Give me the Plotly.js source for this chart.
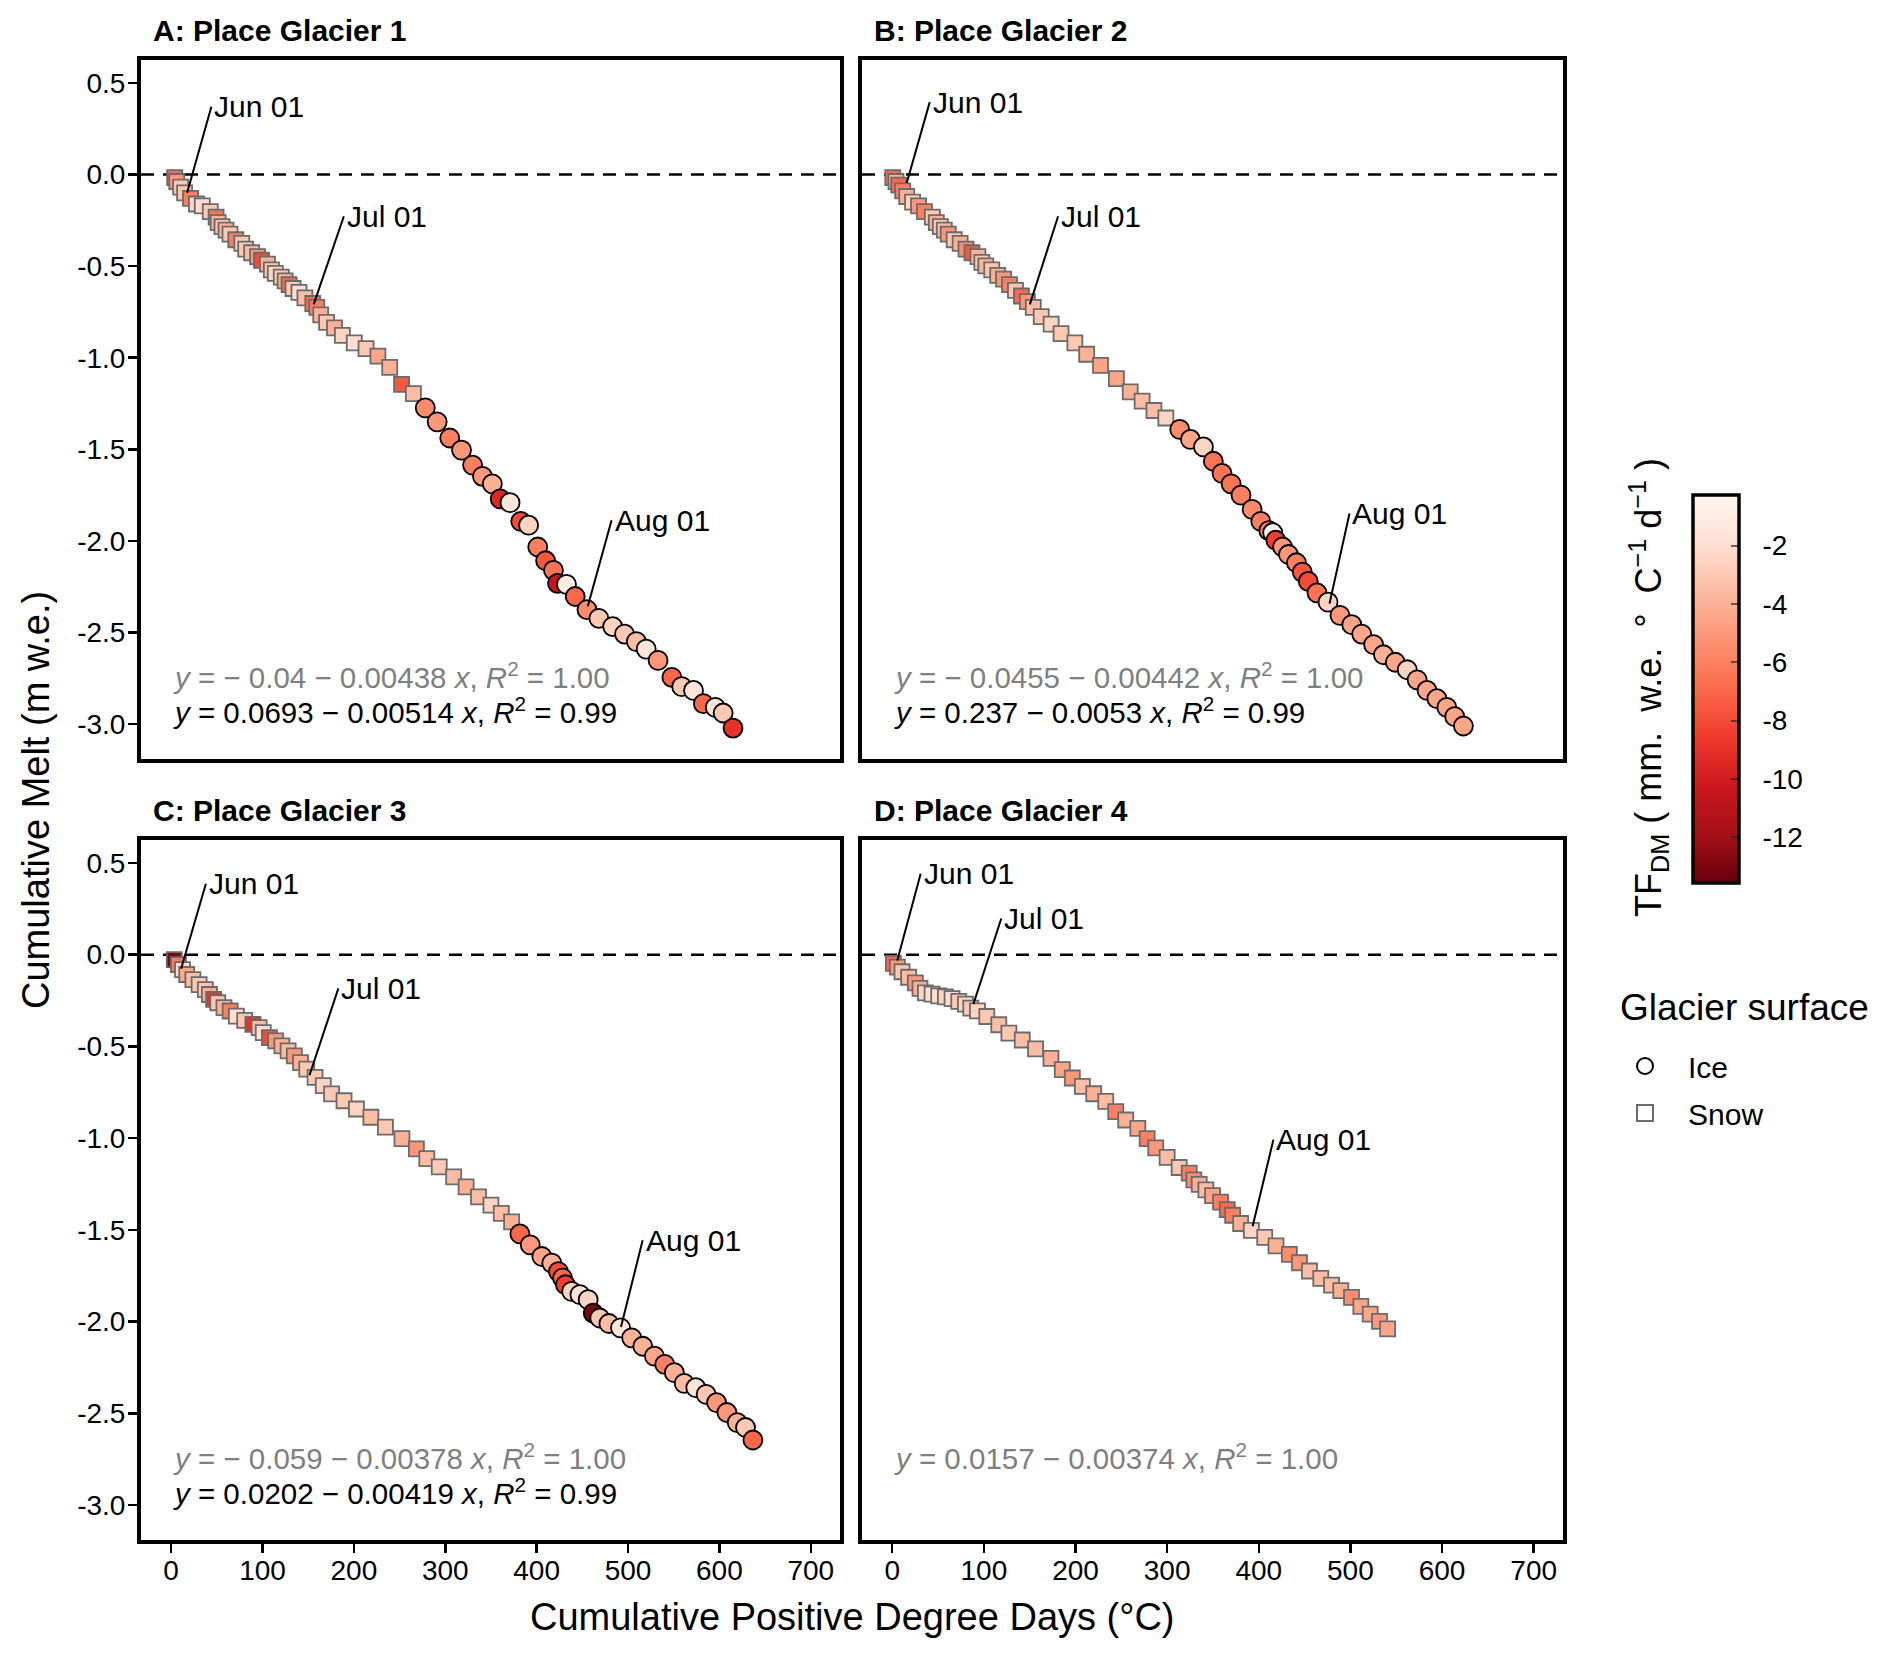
<!DOCTYPE html>
<html>
<head>
<meta charset="utf-8">
<script src="https://cdn.plot.ly/plotly-3.0.1.min.js"></script>
<style>
  body { margin: 0; background: white; }
  #chart { width: 1892px; height: 1657px; }
</style>
</head>
<body>
<div id="chart"></div>
<script>
// ---- data ----
// Panel A: Place Glacier 1
var pddA_snow = [3.9, 6.1, 10.4, 14.7, 21.2, 27.7, 34.1, 42.8, 49.2, 51.4, 55.7, 60.0, 64.4, 70.8, 77.3, 81.6, 88.1, 94.6, 98.9, 105.4,
                 109.7, 114.0, 120.5, 124.8, 129.1, 133.4, 139.9, 146.4, 155.0, 159.4, 163.7, 170.1, 178.8, 187.4, 200.4, 213.3, 226.3, 239.2, 252.2, 265.1];
var meltA_snow = [-0.017, -0.038, -0.069, -0.10, -0.13, -0.161, -0.171, -0.202, -0.233, -0.263, -0.284, -0.304, -0.325, -0.356, -0.376, -0.407, -0.427, -0.448, -0.468, -0.489,
                  -0.52, -0.54, -0.56, -0.581, -0.601, -0.622, -0.643, -0.673, -0.704, -0.725, -0.766, -0.807, -0.837, -0.878, -0.919, -0.95, -0.991, -1.053, -1.145, -1.196];
var tfA_snow = [-7, -5, -3, -3, -6, -2.5, -2, -3, -6.5, -4, -3, -4, -3, -6, -3, -3, -3.5, -5, -8, -4,
                -3, -2.5, -3, -4, -7, -3, -2, -3.5, -7, -6, -4, -3, -4, -2.5, -2, -3, -4.5, -4, -7.5, -3.5];
var pddA_ice = [278.1, 291.1, 304.9, 317.8, 329.9, 340.7, 351.5, 360.1, 370.9, 382.6, 391.2, 401.2, 409.8, 418.4, 422.8, 432.7,
                442.2, 455.1, 468.1, 483.2, 496.2, 509.1, 519.9, 532.9, 548.0, 558.8, 571.7, 582.5, 595.5, 604.1, 614.9];
var meltA_ice = [-1.274, -1.350, -1.438, -1.504, -1.586, -1.647, -1.688, -1.770, -1.791, -1.893, -1.914, -2.033, -2.108, -2.16, -2.231, -2.237,
                 -2.303, -2.375, -2.422, -2.467, -2.508, -2.549, -2.59, -2.652, -2.744, -2.795, -2.816, -2.888, -2.908, -2.939, -3.021];
var tfA_ice = [-5.5, -5, -6, -5, -6, -5, -4, -9.5, -1.5, -8, -2.5, -6, -7.5, -6.5, -10.5, -1,
               -7, -5.5, -3, -2.5, -3, -3.5, -1.5, -5, -7, -3, -1.5, -7, -1.5, -3, -9];

// Panel B: Place Glacier 2
var pddB_snow = [0.6, 4.1, 7.1, 11.4, 15.8, 22.2, 28.7, 35.2, 43.8, 48.1, 52.5, 56.8, 61.1, 67.6, 74.1, 80.5, 87.0, 93.5, 97.8, 102.1,
                 108.6, 115.1, 121.5, 128.0, 134.5, 141.0, 147.5, 153.9, 162.6, 173.4, 184.2, 199.3, 212.2, 227.3, 244.6, 259.7, 272.7, 285.6, 298.6];
var meltB_snow = [-0.017, -0.038, -0.058, -0.089, -0.12, -0.151, -0.171, -0.202, -0.233, -0.263, -0.284, -0.304, -0.325, -0.356, -0.376, -0.407, -0.427, -0.448, -0.479, -0.499,
                  -0.52, -0.55, -0.571, -0.601, -0.632, -0.663, -0.694, -0.725, -0.776, -0.817, -0.868, -0.919, -0.981, -1.042, -1.114, -1.186, -1.237, -1.288, -1.329];
var tfB_snow = [-7, -4, -7, -6, -4, -2.5, -5, -6, -3, -4, -3, -3.5, -5, -3, -4, -5.5, -7.5, -4, -3, -4,
                -3, -4, -5, -6, -3, -7, -5, -3.5, -3, -2.5, -3, -3, -4, -4.5, -4.5, -4, -3.5, -3.5, -2.5];
var pddB_ice = [313.7, 325.4, 339.6, 350.4, 359.9, 369.8, 380.6, 392.7, 402.2, 410.9, 415.2, 418.6, 426.0, 432.4, 441.1, 447.5,
                454.0, 463.5, 475.6, 488.6, 501.5, 512.3, 525.3, 536.1, 549.0, 562.0, 572.8, 583.6, 594.4, 605.2, 613.8, 623.3];
var meltB_ice = [-1.391, -1.446, -1.487, -1.565, -1.631, -1.688, -1.75, -1.828, -1.893, -1.944, -1.955, -1.996, -2.033, -2.074, -2.119, -2.17,
                 -2.221, -2.283, -2.334, -2.406, -2.457, -2.508, -2.566, -2.621, -2.662, -2.703, -2.758, -2.816, -2.861, -2.908, -2.959, -3.01];
var tfB_ice = [-5.5, -4.5, -2.5, -6.5, -6.5, -6.5, -6, -5.5, -6, -6, -0.5, -8.5, -5, -5, -6, -7.5,
               -8, -6.5, -2.5, -5, -4.5, -4.5, -4.5, -4, -4.5, -2.5, -4.5, -4.5, -4.5, -4.5, -4.5, -4.5];

// Panel C: Place Glacier 3
var pddC_snow = [3.4, 8.0, 12.5, 17.0, 23.8, 30.6, 37.4, 41.9, 46.5, 51.0, 57.8, 64.6, 71.4, 80.5, 89.5, 96.3, 100.8, 107.6, 114.4, 121.2,
                 128.0, 134.8, 141.6, 148.4, 157.5, 166.5, 175.6, 189.2, 202.8, 218.6, 234.5, 252.6, 268.4, 279.8, 293.4, 309.2, 322.8, 336.4, 350.0, 361.3, 372.6];
var meltC_snow = [-0.027, -0.054, -0.081, -0.108, -0.136, -0.163, -0.19, -0.217, -0.244, -0.262, -0.289, -0.307, -0.335, -0.358, -0.38, -0.398, -0.425, -0.452, -0.47, -0.497,
                  -0.524, -0.551, -0.588, -0.624, -0.669, -0.714, -0.759, -0.796, -0.841, -0.886, -0.94, -1.003, -1.058, -1.112, -1.157, -1.211, -1.266, -1.32, -1.365, -1.41, -1.456];
var tfC_snow = [-13, -6, -2, -4.5, -3.5, -3, -3, -4, -9, -3, -4, -6, -2, -3, -9, -3.5, -2, -8, -5, -4,
                -3.5, -5, -4, -3, -3, -2.5, -3, -3, -2.5, -3.5, -3, -4, -5, -3.5, -3, -3.5, -4, -3.5, -2.5, -3.5, -4];
var pddC_ice = [381.7, 393.0, 405.7, 416.6, 423.8, 428.4, 431.5, 438.3, 447.4, 456.4, 461.9, 469.1, 479.1, 491.8,
                504.0, 516.2, 528.9, 540.2, 550.7, 561.5, 574.2, 585.5, 596.9, 608.2, 619.5, 628.6, 636.7];
var meltC_ice = [-1.522, -1.582, -1.645, -1.681, -1.727, -1.763, -1.799, -1.835, -1.853, -1.88, -1.953, -1.98, -2.01, -2.034,
                 -2.088, -2.134, -2.188, -2.233, -2.278, -2.336, -2.36, -2.396, -2.441, -2.495, -2.55, -2.577, -2.645];
var tfC_ice = [-7, -5, -4.5, -4, -8, -7, -8.5, -2.5, -1.5, -2.5, -13, -3, -3.5, -1.5,
               -4, -4, -4.5, -6, -4, -3.5, -1.5, -3, -5, -5, -4, -3, -7];

// Panel D: Place Glacier 4 (snow only)
var pddD_snow = [1.2, 5.6, 10.7, 17.9, 25.2, 30.3, 36.2, 43.5, 50.7, 58.0, 65.3, 72.6, 79.9, 85.7, 93.0, 103.2, 116.3, 127.3, 141.9, 156.4,
                 173.2, 185.6, 196.5, 207.5, 219.9, 233.0, 243.9, 254.8, 268.0, 278.2, 287.6, 300.0, 313.1, 324.1, 329.2, 335.0, 342.3, 349.6, 358.3, 365.6,
                 371.5, 380.2, 391.9, 406.5, 418.8, 433.4, 444.4, 455.3, 467.7, 479.4, 489.5, 501.2, 511.4, 521.6, 531.8, 540.6];
var meltD_snow = [-0.047, -0.068, -0.093, -0.123, -0.154, -0.184, -0.208, -0.215, -0.224, -0.23, -0.239, -0.254, -0.27, -0.291, -0.306, -0.337, -0.382, -0.428, -0.465, -0.513,
                  -0.565, -0.626, -0.672, -0.718, -0.758, -0.8, -0.855, -0.901, -0.947, -1.002, -1.053, -1.105, -1.16, -1.191, -1.227, -1.252, -1.282, -1.313, -1.349, -1.389,
                  -1.42, -1.465, -1.502, -1.541, -1.587, -1.633, -1.679, -1.724, -1.764, -1.801, -1.831, -1.868, -1.917, -1.959, -1.999, -2.039];
var tfD_snow = [-7, -5, -3, -3.5, -5, -4, -2.5, -2, -2, -2.5, -2, -3, -2.5, -3, -2.5, -3, -3.5, -3, -3.5, -3.5,
                -4, -4.5, -5, -3.5, -4, -3.5, -6, -4, -4.5, -6, -5, -3.5, -3, -6, -5.5, -4, -3.5, -4.5, -6, -7,
                -6, -4, -2.5, -3, -4, -5.5, -5, -3.5, -3.5, -3.5, -4, -5.5, -4.5, -4.5, -5, -4.5];

// date labels: the point each label marks, and where its text sits
var dateLabels = ['Jun 01', 'Jul 01', 'Aug 01'];
var datePtA_x = [17.5, 156, 456],   datePtA_y = [-0.10, -0.709, -2.356];
var dateLblA_x = [44, 189, 482],    dateLblA_y = [0.37, -0.228, -1.887];
var datePtB_x = [15.8, 150.2, 477.2], datePtB_y = [-0.046, -0.709, -2.342];
var dateLblB_x = [40.9, 181, 499],  dateLblB_y = [0.395, -0.228, -1.85];
var datePtC_x = [10.9, 151.4, 492.3], datePtC_y = [-0.077, -0.657, -2.029];
var dateLblC_x = [38, 183, 516],    dateLblC_y = [0.387, -0.184, -1.556];
var datePtD_x = [5.5, 88.6, 393.3], datePtD_y = [-0.032, -0.269, -1.48];
var dateLblD_x = [31, 119, 416],    dateLblD_y = [0.441, 0.197, -1.008];

// regression equations (grey = first fit, black = second fit)
var eqGrey = ['<i>y</i> = − 0.04 − 0.00438 <i>x</i>, <i>R</i><sup>2</sup> = 1.00',
              '<i>y</i> = − 0.0455 − 0.00442 <i>x</i>, <i>R</i><sup>2</sup> = 1.00',
              '<i>y</i> = − 0.059 − 0.00378 <i>x</i>, <i>R</i><sup>2</sup> = 1.00',
              '<i>y</i> = 0.0157 − 0.00374 <i>x</i>, <i>R</i><sup>2</sup> = 1.00'];
var eqBlack = ['<i>y</i> = 0.0693 − 0.00514 <i>x</i>, <i>R</i><sup>2</sup> = 0.99',
               '<i>y</i> = 0.237 − 0.0053 <i>x</i>, <i>R</i><sup>2</sup> = 0.99',
               '<i>y</i> = 0.0202 − 0.00419 <i>x</i>, <i>R</i><sup>2</sup> = 0.99',
               ''];
var panelTitles = ['A: Place Glacier 1', 'B: Place Glacier 2', 'C: Place Glacier 3', 'D: Place Glacier 4'];

var yTicks = [0.5, 0, -0.5, -1, -1.5, -2, -2.5, -3];
var yTickText = ['0.5', '0.0', '-0.5', '-1.0', '-1.5', '-2.0', '-2.5', '-3.0'];
var xTicks = [0, 100, 200, 300, 400, 500, 600, 700];
var cbTicks = [-2, -4, -6, -8, -10, -12];
var cbTickText = ['-2', '-4', '-6', '-8', '-10', '-12'];
var tfMin = -13.56, tfMax = -0.27;

// ---- layout helpers ----
var W = 1892, H = 1657;
var FONT = 'Liberation Sans, Arial, Helvetica, sans-serif';
function fx(px) { return px / W; }
function fy(py) { return 1 - py / H; }

var reds = [[0, '#67000d'], [0.125, '#a50f15'], [0.25, '#cb181d'], [0.375, '#ef3b2c'], [0.5, '#fb6a4a'],
            [0.625, '#fc9272'], [0.75, '#fcbba1'], [0.875, '#fee0d2'], [1, '#fff5f0']];

// colour bar box in pixels
var cbLeft = 1693, cbRight = 1739, cbTop = 495, cbBottom = 883;

var panels = [
    {sx: pddA_snow, sy: meltA_snow, sc: tfA_snow, ix: pddA_ice, iy: meltA_ice, ic: tfA_ice,
     px: datePtA_x, py: datePtA_y, lx: dateLblA_x, ly: dateLblA_y, xd: [141, 840], yd: [60, 759]},
    {sx: pddB_snow, sy: meltB_snow, sc: tfB_snow, ix: pddB_ice, iy: meltB_ice, ic: tfB_ice,
     px: datePtB_x, py: datePtB_y, lx: dateLblB_x, ly: dateLblB_y, xd: [862, 1563], yd: [60, 759]},
    {sx: pddC_snow, sy: meltC_snow, sc: tfC_snow, ix: pddC_ice, iy: meltC_ice, ic: tfC_ice,
     px: datePtC_x, py: datePtC_y, lx: dateLblC_x, ly: dateLblC_y, xd: [141, 840], yd: [840, 1540]},
    {sx: pddD_snow, sy: meltD_snow, sc: tfD_snow, ix: [], iy: [], ic: [],
     px: datePtD_x, py: datePtD_y, lx: dateLblD_x, ly: dateLblD_y, xd: [862, 1563], yd: [840, 1540]}
];

var data = [];
var shapes = [];
var annotations = [];
var layout = {
    width: W,
    height: H,
    margin: {l: 0, r: 0, t: 0, b: 0},
    paper_bgcolor: 'white',
    plot_bgcolor: 'white',
    font: {family: FONT, color: 'black'},
    showlegend: true,
    legend: {
        x: fx(1602), xanchor: 'left',
        y: fy(1040), yanchor: 'top',
        font: {size: 30, color: 'black', family: FONT},
        bgcolor: 'rgba(0,0,0,0)',
        itemwidth: 76,
        tracegroupgap: 5
    },
    coloraxis: {
        cmin: tfMin,
        cmax: tfMax,
        colorscale: reds,
        colorbar: {
            x: fx(cbLeft), xanchor: 'left',
            y: fy((cbTop + cbBottom) / 2), yanchor: 'middle',
            len: (cbBottom - cbTop) / H, lenmode: 'fraction',
            thickness: cbRight - cbLeft, thicknessmode: 'pixels',
            outlinewidth: 3.5, outlinecolor: 'black',
            xpad: 0, ypad: 0,
            tickvals: cbTicks,
            ticktext: cbTickText.map(function(t) { return '\u00a0\u00a0' + t; }),
            ticks: 'inside', ticklen: 9, tickwidth: 2, tickcolor: 'rgba(40,40,40,0.7)',
            tickfont: {size: 28, color: 'black', family: FONT},
            title: {text: ''}
        }
    }
};

panels.forEach(function(p, i) {
    var n = i + 1;
    var xa = n === 1 ? 'x' : 'x' + n;
    var ya = n === 1 ? 'y' : 'y' + n;
    var bottomRow = i >= 2, leftCol = (i % 2 === 0);

    layout['xaxis' + (n === 1 ? '' : n)] = {
        domain: [fx(p.xd[0]), fx(p.xd[1])],
        anchor: ya,
        range: [-33, 732],
        showgrid: false, zeroline: false,
        showline: true, linecolor: 'black', linewidth: 4, mirror: true,
        ticks: bottomRow ? 'outside' : '', ticklen: 9, tickwidth: 2.5, tickcolor: 'black',
        tickvals: xTicks, showticklabels: bottomRow, ticklabelstandoff: -7,
        tickfont: {size: 28, color: 'black', family: FONT}
    };
    layout['yaxis' + (n === 1 ? '' : n)] = {
        domain: [fy(p.yd[1]), fy(p.yd[0])],
        anchor: xa,
        range: [-3.19, 0.625],
        showgrid: false, zeroline: false,
        showline: true, linecolor: 'black', linewidth: 4, mirror: true,
        ticks: leftCol ? 'outside' : '', ticklen: 9, tickwidth: 2.5, tickcolor: 'black',
        tickvals: yTicks, ticktext: yTickText, showticklabels: leftCol, ticklabelstandoff: -3,
        tickfont: {size: 28, color: 'black', family: FONT}
    };

    // zero line
    shapes.push({type: 'line', xref: xa + ' domain', x0: 0, x1: 1, yref: ya, y0: 0, y1: 0,
                 line: {color: 'black', width: 2.5, dash: '13px,9px'}, layer: 'below'});

    // snow then ice
    data.push({
        x: p.sx, y: p.sy, xaxis: xa, yaxis: ya, type: 'scatter', mode: 'markers', showlegend: false,
        marker: {symbol: 'square', size: 15, color: p.sc, coloraxis: 'coloraxis',
                 line: {color: '#6b6b6b', width: 1.8}}
    });
    if (p.ix.length) {
        data.push({
            x: p.ix, y: p.iy, xaxis: xa, yaxis: ya, type: 'scatter', mode: 'markers', showlegend: false,
            marker: {symbol: 'circle', size: 19, color: p.ic, coloraxis: 'coloraxis',
                     line: {color: 'black', width: 1.8}}
        });
    }

    // date labels with leader segments
    for (var k = 0; k < dateLabels.length; k++) {
        shapes.push({type: 'line', xref: xa, yref: ya, x0: p.px[k], y0: p.py[k], x1: p.lx[k], y1: p.ly[k],
                     line: {color: 'black', width: 2}});
        annotations.push({xref: xa, yref: ya, x: p.lx[k], y: p.ly[k], xanchor: 'left', yanchor: 'middle',
                          xshift: 1, text: dateLabels[k], showarrow: false,
                          font: {size: 30, color: 'black', family: FONT}});
    }

    // regression equations
    annotations.push({xref: xa, yref: ya, x: 0, y: -2.735, xanchor: 'left', yanchor: 'middle',
                      text: eqGrey[i], showarrow: false, font: {size: 29.5, color: '#7f7f7f', family: FONT}});
    if (eqBlack[i]) {
        annotations.push({xref: xa, yref: ya, x: 0, y: -2.925, xanchor: 'left', yanchor: 'middle',
                          text: eqBlack[i], showarrow: false, font: {size: 29.5, color: 'black', family: FONT}});
    }

    // panel title
    annotations.push({xref: 'paper', yref: 'paper', x: fx(p.xd[0] + 10), y: fy(p.yd[0] - 30),
                      xanchor: 'left', yanchor: 'middle', text: '<b>' + panelTitles[i] + '</b>',
                      showarrow: false, font: {size: 30, color: 'black', family: FONT}});
});

// legend entries (shape key only)
data.push({x: [null], y: [null], type: 'scatter', mode: 'markers', name: 'Ice', legendgroup: 'ice',
           marker: {symbol: 'circle-open', size: 18, color: 'black', line: {width: 2}}});
data.push({x: [null], y: [null], type: 'scatter', mode: 'markers', name: 'Snow', legendgroup: 'snow',
           marker: {symbol: 'square-open', size: 16, color: '#6b6b6b', line: {width: 2}}});

// small ticks on the left inner edge of the colour bar
cbTicks.forEach(function(v) {
    var py = cbBottom - (v - tfMin) / (tfMax - tfMin) * (cbBottom - cbTop);
    shapes.push({type: 'line', xref: 'paper', yref: 'paper', x0: fx(cbLeft + 2), x1: fx(cbLeft + 11),
                 y0: fy(py), y1: fy(py), line: {color: 'rgba(40,40,40,0.7)', width: 2}, layer: 'above'});
});

// axis titles, colour bar title, legend title
annotations.push({xref: 'paper', yref: 'paper', x: fx(36), y: fy(800), xanchor: 'center', yanchor: 'middle',
                  textangle: -90, text: 'Cumulative Melt (m w.e.)', showarrow: false,
                  font: {size: 38, color: 'black', family: FONT}});
annotations.push({xref: 'paper', yref: 'paper', x: fx(852), y: fy(1617), xanchor: 'center', yanchor: 'middle',
                  text: 'Cumulative Positive Degree Days (°C)', showarrow: false,
                  font: {size: 38, color: 'black', family: FONT}});
annotations.push({xref: 'paper', yref: 'paper', x: fx(1648), y: fy(688), xanchor: 'center', yanchor: 'middle',
                  textangle: -90, text: 'TF<sub>DM</sub> ( mm.  w.e.  °  C<sup>−1</sup> d<sup>−1</sup> )', showarrow: false,
                  font: {size: 36, color: 'black', family: FONT}});
annotations.push({xref: 'paper', yref: 'paper', x: fx(1618), y: fy(1007), xanchor: 'left', yanchor: 'middle',
                  text: 'Glacier surface', showarrow: false,
                  font: {size: 37, color: 'black', family: FONT}});

layout.shapes = shapes;
layout.annotations = annotations;

Plotly.newPlot('chart', data, layout, {staticPlot: true, displayModeBar: false});
</script>
</body>
</html>
